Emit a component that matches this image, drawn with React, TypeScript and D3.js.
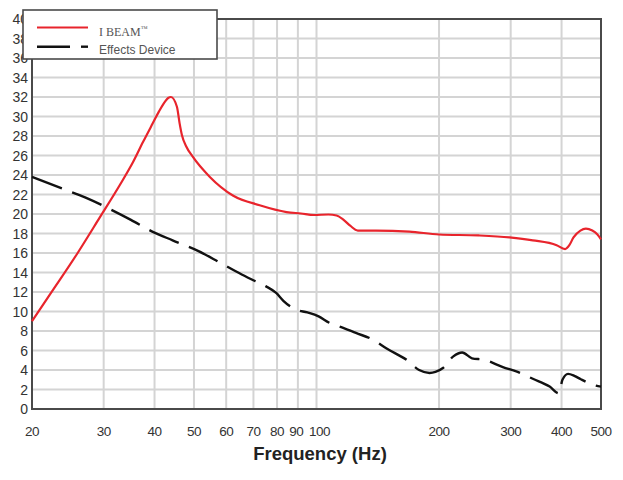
import React from "react";
import * as d3 from "d3";

const W = 623;
const H = 480;

const xTicks = [20, 30, 40, 50, 60, 70, 80, 90, 100, 200, 300, 400, 500];
const xGrid = [30, 40, 50, 60, 70, 80, 90, 100, 200, 300, 400];
const yTicks = d3.range(0, 41, 2);

const iBeamFreq = [20, 22.1, 25.8, 29.4, 32.9, 35.4, 37.5, 39.6, 41, 42.4, 43.2, 43.9, 45.4, 46.1, 46.7, 47.9, 49.6, 54.7, 62.3, 72.5, 84.4, 91.6, 98.6, 107, 112, 116.6, 121, 126.3, 140, 169, 200, 250, 298, 340, 389, 408, 418, 428, 445, 459, 476, 490, 500];
const iBeamVal = [9.0, 11.7, 15.9, 19.7, 23.0, 25.3, 27.4, 29.3, 30.5, 31.5, 31.9, 32, 31.0, 29.3, 28.1, 26.9, 25.9, 23.8, 21.9, 20.9, 20.2, 20.05, 19.9, 19.95, 19.85, 19.4, 18.8, 18.3, 18.3, 18.2, 17.9, 17.8, 17.6, 17.3, 16.8, 16.4, 16.8, 17.6, 18.3, 18.5, 18.3, 17.9, 17.4];

const fxFreq = [20, 24.1, 27, 31.1, 35, 39.5, 44.3, 51.3, 58, 65.5, 70.8, 75, 79.6, 82.9, 89.1, 95, 101.2, 107.5, 116.7, 125, 137, 148.7, 167, 178.7, 189.5, 196, 204.5, 216.9, 228, 241, 258, 287, 312, 340, 374, 394, 402, 415, 430, 446, 470, 486, 500];
const fxVal = [23.8, 22.5, 21.7, 20.5, 19.4, 18.2, 17.3, 16.2, 15.0, 13.8, 13.1, 12.6, 11.9, 11.1, 10.2, 9.9, 9.5, 8.85, 8.3, 7.8, 7.15, 6.2, 5.0, 4.0, 3.7, 3.8, 4.2, 5.4, 5.8, 5.2, 5.05, 4.3, 3.8, 3.1, 2.3, 1.6, 3.0, 3.6, 3.4, 3.05, 2.6, 2.4, 2.3];

const plot = { left: 32, right: 601, top: 19, bottom: 409 };

export default function App() {
  const x = d3.scaleLog().domain([20, 500]).range([plot.left, plot.right]);
  const y = d3.scaleLinear().domain([0, 40]).range([plot.bottom, plot.top]);

  const line = d3
    .line<[number, number]>()
    .x((d) => x(d[0]))
    .y((d) => y(d[1]))
    .curve(d3.curveMonotoneX);

  const redPath = line(iBeamFreq.map((f, i) => [f, iBeamVal[i]]) as [number, number][]) || "";
  const blackPath = line(fxFreq.map((f, i) => [f, fxVal[i]]) as [number, number][]) || "";

  const font = "'Liberation Sans', Arial, sans-serif";
  const labelShift = (t: number) => (t === 100 ? 3 : t === 90 ? -1.5 : 0);

  return (
    <svg
      width={W}
      height={H}
      style={{ position: "absolute", left: 0, top: 0, background: "#fff" }}
    >
      <rect x={0} y={0} width={W} height={H} fill="#fff" />
      {/* grid */}
      {yTicks.map((t) => (
        <line
          key={"gy" + t}
          x1={plot.left}
          x2={plot.right}
          y1={y(t)}
          y2={y(t)}
          stroke="#d4d4d4"
          strokeWidth={2}
        />
      ))}
      {xGrid.map((t) => (
        <line
          key={"gx" + t}
          x1={x(t)}
          x2={x(t)}
          y1={plot.top}
          y2={plot.bottom}
          stroke="#d4d4d4"
          strokeWidth={2}
        />
      ))}
      {/* frame */}
      <rect
        x={plot.left}
        y={plot.top}
        width={plot.right - plot.left}
        height={plot.bottom - plot.top}
        fill="none"
        stroke="#4a4a4a"
        strokeWidth={2}
      />
      {/* series */}
      <path d={redPath} fill="none" stroke="#e8242c" strokeWidth={2.2} strokeLinejoin="round" />
      <path
        d={blackPath}
        fill="none"
        stroke="#111"
        strokeWidth={2.4}
        strokeDasharray="32 11"
        strokeLinejoin="round"
      />
      {/* y tick labels */}
      {yTicks.map((t) => (
        <text
          key={"ty" + t}
          x={28}
          y={y(t) + 5}
          textAnchor="end"
          fontFamily={font}
          fontSize={14}
          fill="#333"
        >
          {t}
        </text>
      ))}
      {/* x tick labels */}
      {xTicks.map((t) => (
        <text
          key={"tx" + t}
          x={x(t) + labelShift(t)}
          y={436}
          textAnchor="middle"
          fontFamily={font}
          fontSize={13.5}
          fill="#333"
          letterSpacing={-0.5}
        >
          {t}
        </text>
      ))}
      <text
        x={320}
        y={460}
        textAnchor="middle"
        fontFamily={font}
        fontSize={18.5}
        fontWeight="bold"
        fill="#222"
      >
        Frequency (Hz)
      </text>
      {/* legend */}
      <rect x={23} y={10} width={194} height={49} fill="#fff" stroke="#4a4a4a" strokeWidth={1.6} />
      <line x1={37} x2={88} y1={27.5} y2={27.5} stroke="#e8242c" strokeWidth={2.2} />
      <line x1={37} x2={70} y1={46.7} y2={46.7} stroke="#111" strokeWidth={2.4} />
      <line x1={81} x2={88} y1={46.7} y2={46.7} stroke="#111" strokeWidth={2.4} />
      <text x={99} y={36} fontFamily="'Liberation Serif', 'Times New Roman', serif" fontSize={12} fill="#555">
        I BEAM
        <tspan fontSize={7} dy={-5}>™</tspan>
      </text>
      <text x={99} y={54} fontFamily={font} fontSize={12} fill="#555">
        Effects Device
      </text>
    </svg>
  );
}
